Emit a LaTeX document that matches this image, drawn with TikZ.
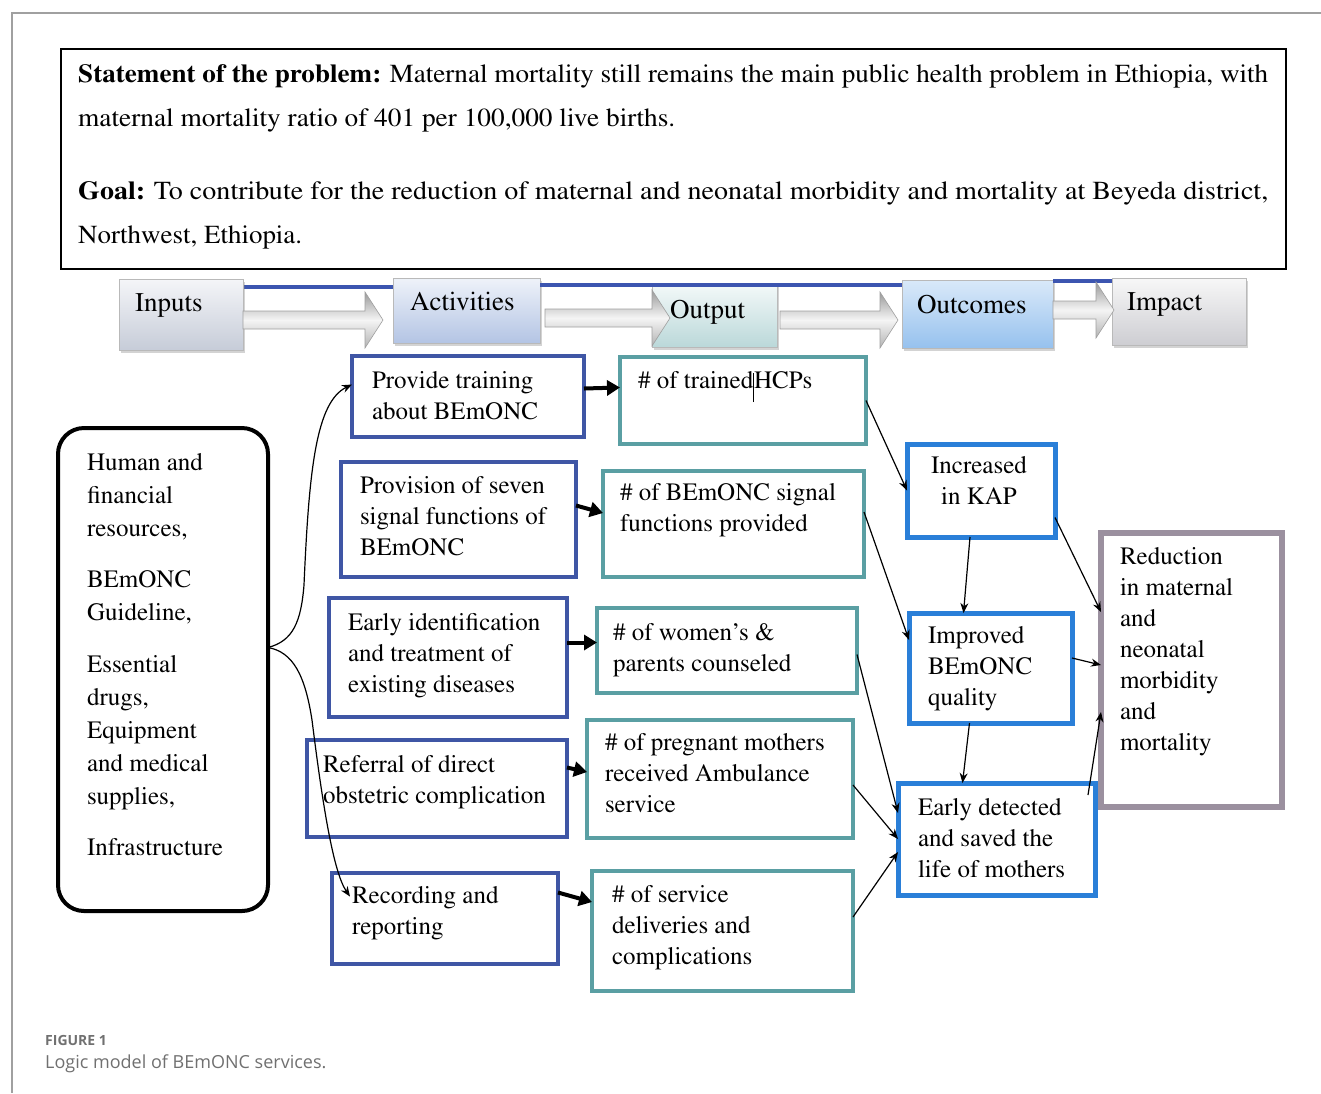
\documentclass[tikz,border=0pt]{standalone}
\usepackage[T1]{fontenc}
\usepackage{fontspec}
\setsansfont{Open Sans}
\usetikzlibrary{arrows.meta,shadows}
\newcommand\tms{\fontencoding{T1}\fontfamily{ptm}\selectfont}
\definecolor{actblue}{HTML}{3F56A5}
\definecolor{outteal}{HTML}{5A9FA3}
\definecolor{ocblue}{HTML}{2A7FD8}
\definecolor{impgray}{HTML}{9B909F}
\definecolor{bandblue}{HTML}{3C55B0}
\definecolor{framegray}{HTML}{A0A0A0}
\definecolor{capgray}{HTML}{707070}
\definecolor{inT}{HTML}{F4F5F8}\definecolor{inB}{HTML}{C6CCD8}
\definecolor{actT}{HTML}{EEF2F9}\definecolor{actB}{HTML}{B3C4E4}
\definecolor{outT}{HTML}{F4F9F9}\definecolor{outB}{HTML}{BAD8D9}
\definecolor{ocT}{HTML}{D9E9F9}\definecolor{ocB}{HTML}{96C1EE}
\definecolor{impT}{HTML}{F7F7F7}\definecolor{impB}{HTML}{CDCDD2}
\newcommand\tstrut{\rule{0pt}{18pt}}
\newcommand\barrow[3]{\path[barrowsty] (#1,#3-9) -- (#2-18,#3-9) -- (#2-18,#3-28) -- (#2,#3) -- (#2-18,#3+28) -- (#2-18,#3+9) -- (#1,#3+9) -- cycle;}
\begin{document}
\begin{tikzpicture}[x=1pt,y=-1pt,
  bx/.style={rectangle, fill=white, anchor=north west, inner sep=0pt, outer sep=0pt},
  hdrbox/.style={bx, draw=black, line width=2pt},
  inbox/.style={bx, draw=black, line width=4pt, rounded corners=26pt},
  actbox/.style={bx, draw=actblue, line width=4.5pt},
  outbox/.style={bx, draw=outteal, line width=4.5pt},
  ocbox/.style={bx, draw=ocblue, line width=5pt},
  impbox/.style={bx, draw=impgray, line width=5.5pt},
  stagebox/.style={rectangle, anchor=north west, inner sep=0pt, draw=gray!55, line width=0.8pt,
     drop shadow={shadow xshift=2pt, shadow yshift=-3pt, opacity=0.35}},
  barrowsty/.style={draw=gray!75, line width=0.6pt, top color=gray!80, bottom color=gray!60, middle color=gray!8},
  txt/.style={anchor=north west, inner sep=0pt, outer sep=0pt, align=left, font=\tms\fontsize{25}{31}\selectfont},
  intxt/.style={txt, font=\tms\fontsize{25}{33}\selectfont},
  hdrtxt/.style={anchor=base west, inner sep=0pt, font=\tms\fontsize{26}{30}\selectfont},
  stxt/.style={anchor=base west, inner sep=0pt, font=\tms\fontsize{27}{32}\selectfont},
  thick arrow/.style={line width=4pt, -{Triangle[length=13pt,width=15pt]}},
  thin arrow/.style={line width=1.2pt, -{Stealth[length=10pt,width=8pt]}},
  band/.style={draw=bandblue, line width=4pt}
]
\useasboundingbox (0,0) rectangle (1321,1093);
% frame
\draw[framegray, line width=1.5pt] (12,1093) -- (12,13) -- (1321,13);

% header
\node[hdrbox, minimum width=1225pt, minimum height=220pt] (hdr) at (61,49) {};
\node[hdrtxt] (h1) at (78,82) {\resizebox{1190pt}{\height}{\textbf{Statement of the problem:} Maternal mortality still remains the main public health problem in Ethiopia, with}};
\node[hdrtxt] (h2) at (78,126) {\resizebox{597pt}{\height}{maternal mortality ratio of 401 per 100,000 live births.}};
\node[hdrtxt] (h3) at (78,199) {\resizebox{1190pt}{\height}{\textbf{Goal:} To contribute for the reduction of maternal and neonatal morbidity and mortality at Beyeda district,}};
\node[hdrtxt] (h4) at (78,243) {\resizebox{224pt}{\height}{Northwest, Ethiopia.}};

% stage banner
\draw[band] (243,287) -- (393,287);
\node[stagebox, minimum width=124pt, minimum height=71pt, top color=inT, bottom color=inB] (sIn) at (119,279) {};
\node[stagebox, minimum width=147pt, minimum height=65pt, top color=actT, bottom color=actB] (sAct) at (393,278) {};
\node[stagebox, minimum width=125pt, minimum height=64pt, top color=outT, bottom color=outB] (sOut) at (652,283) {};
\node[stagebox, minimum width=151pt, minimum height=68pt, top color=ocT, bottom color=ocB] (sOc) at (902,280) {};
\node[stagebox, minimum width=134pt, minimum height=67pt, top color=impT, bottom color=impB] (sImp) at (1112,278) {};
\draw[band] (540,285) -- (902,285);
\draw[band] (1053,281) -- (1112,281);
\barrow{243}{383}{320}
\barrow{545}{670}{318}
\barrow{780}{898}{320}
\barrow{1053}{1114}{310}
\node[stxt] (lIn) at (135,311) {Inputs};
\node[stxt] (lAct) at (410,310) {Activities};
\node[stxt] (lOut) at (670,318) {Output};
\node[stxt] (lOc) at (917,313) {Outcomes};
\node[stxt] (lImp) at (1127,310) {Impact};

% inputs
\node[inbox, minimum width=210pt, minimum height=483pt] (inp) at (58,428) {};
\node[intxt] (inp1) at (87,452) {\tstrut Human and\\financial\\resources,};
\node[intxt] (inp2) at (87,569) {\tstrut BEmONC\\Guideline,};
\node[intxt] (inp3) at (87,654) {\tstrut Essential\\drugs,\\Equipment\\and medical\\supplies,};
\node[intxt] (inp4) at (87,837) {\tstrut Infrastructure};

% activities
\node[actbox, minimum width=232pt, minimum height=81pt] (a1) at (352,356) {};
\node[actbox, minimum width=235pt, minimum height=115pt] (a2) at (341,462) {};
\node[actbox, minimum width=238pt, minimum height=119pt] (a3) at (329,598) {};
\node[actbox, minimum width=260pt, minimum height=97pt] (a4) at (307,740) {};
\node[actbox, minimum width=226pt, minimum height=91pt] (a5) at (332,873) {};
\node[txt] (a1t) at (372,370) {\tstrut Provide training\\about BEmONC};
\node[txt] (a2t) at (360,475) {\tstrut Provision of seven\\signal functions of\\BEmONC};
\node[txt] (a3t) at (348,612) {\tstrut Early identification\\and treatment of\\existing diseases};
\node[txt] (a4t) at (323,754) {\tstrut Referral of direct\\obstetric complication};
\node[txt] (a5t) at (352,885) {\tstrut Recording and\\reporting};

% outputs
\node[outbox, minimum width=246pt, minimum height=87pt] (o1) at (620,357) {};
\node[outbox, minimum width=261pt, minimum height=106pt] (o2) at (603,471) {};
\node[outbox, minimum width=260pt, minimum height=85pt] (o3) at (597,608) {};
\node[outbox, minimum width=266pt, minimum height=118pt] (o4) at (587,720) {};
\node[outbox, minimum width=261pt, minimum height=120pt] (o5) at (592,871) {};
\node[txt] (o1t) at (638,370) {\tstrut\# of trained\rule[-14pt]{0.8pt}{29pt}HCPs};
\node[txt] (o2t) at (620,482) {\tstrut\# of BEmONC signal\\functions provided};
\node[txt] (o3t) at (613,622) {\tstrut\# of women's \&\\parents counseled};
\node[txt] (o4t) at (605,732) {\tstrut\# of pregnant mothers\\received Ambulance\\service};
\node[txt] (o5t) at (612,884) {\tstrut\# of service\\deliveries and\\complications};

% outcomes
\node[ocbox, minimum width=148pt, minimum height=93pt] (c1) at (907,444) {};
\node[ocbox, minimum width=163pt, minimum height=110pt] (c2) at (909,613) {};
\node[ocbox, minimum width=197pt, minimum height=112pt] (c3) at (898,783) {};
\node[txt, anchor=north, align=center] (c1t) at (979,455) {\tstrut Increased\\in KAP};
\node[txt] (c2t) at (928,625) {\tstrut Improved\\BEmONC\\quality};
\node[txt] (c3t) at (918,797) {\tstrut Early detected\\and saved the\\life of mothers};

% impact
\node[impbox, minimum width=181pt, minimum height=274pt] (i1) at (1101,533) {};
\node[txt] (i1t) at (1120,546) {\tstrut Reduction\\in maternal\\and\\neonatal\\morbidity\\and\\mortality};

% brace from inputs
\coordinate (tip) at ([yshift=22pt]inp.east);
\draw[thin arrow] (tip) .. controls (293,641) and (301,622) .. (304,585) .. controls (309,470) and (316,402) .. ([yshift=12pt]a1.west);
\draw[thin arrow] (tip) .. controls (293,652) and (305,675) .. (312,720) .. controls (322,800) and (333,872) .. ([xshift=18pt,yshift=22pt]a5.west);

% activity -> output
\draw[thick arrow] ([yshift=8pt]a1.east) -- ([yshift=13pt]o1.west);
\draw[thick arrow] ([yshift=14pt]a2.east) -- ([yshift=11pt]o2.west);
\draw[thick arrow] ([yshift=15pt]a3.east) -- ([yshift=8pt]o3.west);
\draw[thick arrow] ([yshift=21pt]a4.east) -- ([yshift=7pt]o4.west);
\draw[thick arrow] ([yshift=26pt]a5.east) -- ([yshift=29pt]o5.west);

% output -> outcome
\draw[thin arrow] (o1.east) -- (c1.west);
\draw[thin arrow] ([yshift=12pt]o2.east) -- ([yshift=28pt]c2.west);
\draw[thin arrow] ([yshift=-4pt]o3.east) -- ([yshift=26pt]c3.west);
\draw[thin arrow] ([yshift=-6pt]o4.east) -- (c3.west);
\draw[thin arrow] ([yshift=14pt]o5.east) -- ([yshift=-13pt]c3.west);

% outcome -> outcome / impact
\draw[thin arrow] ([xshift=-11pt]c1.south) -- ([xshift=-27pt]c2.north);
\draw[thin arrow] ([xshift=-21pt]c2.south) -- ([xshift=-34pt]c3.north);
\draw[thin arrow] ([yshift=-27pt]c1.east) -- ([yshift=58pt]i1.west);
\draw[thin arrow] ([yshift=10pt]c2.east) -- ([yshift=5pt]i1.west);
\draw[thin arrow] ([xshift=-7pt,yshift=-12pt]c3.north east) -- ([yshift=-42pt]i1.west);

% caption
\node[anchor=base west, inner sep=0pt, text=capgray, font=\sffamily\bfseries\fontsize{14}{16}\selectfont] (cap1) at (45,1045) {FIGURE 1};
\node[anchor=base west, inner sep=0pt, text=capgray, font=\sffamily\fontsize{18}{22}\selectfont] (cap2) at (45,1068) {Logic model of BEmONC services.};
\end{tikzpicture}
\end{document}
